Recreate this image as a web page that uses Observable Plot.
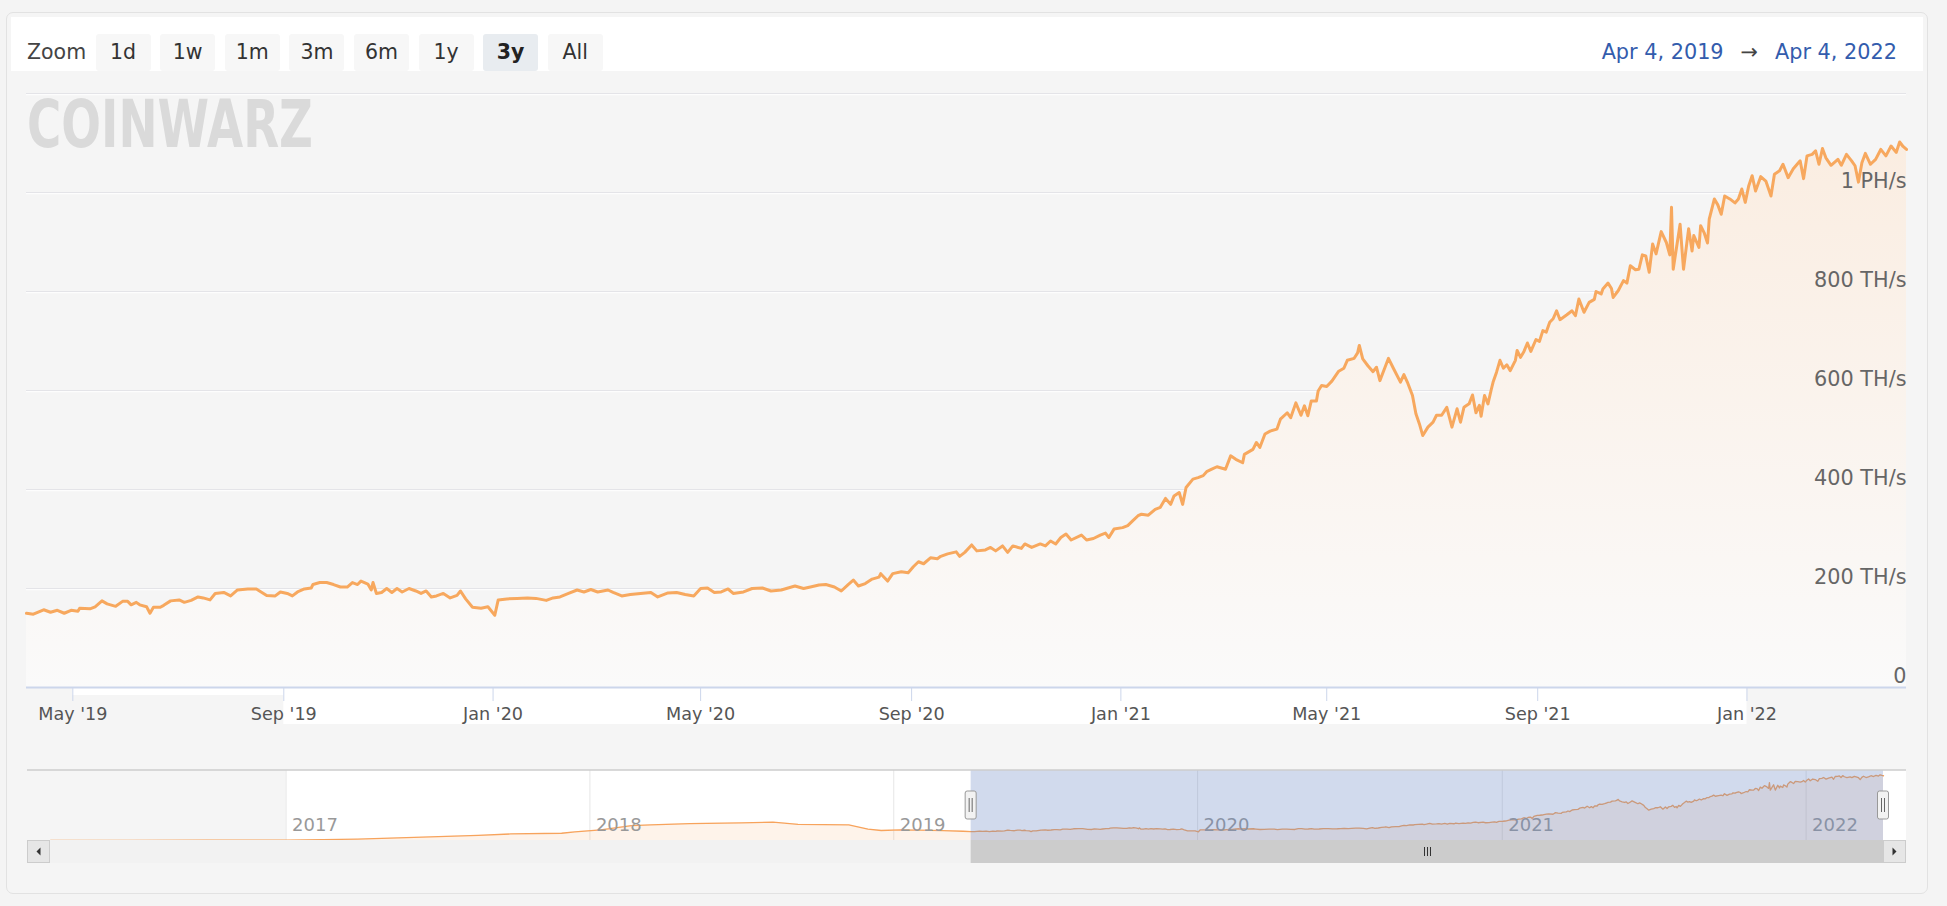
<!DOCTYPE html>
<html><head><meta charset="utf-8">
<script src="https://cdn.jsdelivr.net/npm/d3@7"></script>
<script src="https://cdn.jsdelivr.net/npm/@observablehq/plot@0.6"></script>
<style>
html,body{margin:0;padding:0;background:#f4f4f4;}
body{width:1947px;height:906px;position:relative;overflow:hidden;font-family:"DejaVu Sans",Verdana,sans-serif;}
#box{position:absolute;left:6px;top:12px;width:1920px;height:880px;border:1px solid #e2e2e2;border-radius:7px;background:#f5f5f5;}
#band{position:absolute;left:11px;top:17px;width:1912px;height:54px;background:#fff;}
.zlabel{position:absolute;left:27px;top:52px;transform:translateY(-50%);font-size:20.5px;color:#444;}
.btn{position:absolute;top:33.5px;height:37px;width:55px;background:#f7f7f7;border-radius:3px;font-size:20.5px;color:#333;display:flex;align-items:center;justify-content:center;}
.btn.sel{background:#e8ecf0;font-weight:bold;color:#222;}
#range{position:absolute;right:50px;top:52px;transform:translateY(-50%);font-size:20.8px;color:#335cad;white-space:nowrap;}
#range .arr{color:#444;margin:0 17px;}
#logo{position:absolute;left:27px;top:85px;overflow:visible;}
#main{position:absolute;left:0;top:71px;}
#nav{position:absolute;left:0;top:750px;}
</style>
</head><body>
<div id="box"></div>
<div id="band"></div>
<div id="top"></div>
<svg id="logo" width="300" height="72"><text x="0" y="62" font-family="DejaVu Sans" font-weight="bold" font-size="66" textLength="286" lengthAdjust="spacingAndGlyphs" fill="#dadada">COINWARZ</text></svg>
<div id="main"></div>
<div id="nav"></div>
<script>
// ---------- DATA ----------
const zoomButtons = ["1d","1w","1m","3m","6m","1y","3y","All"];
const selectedButton = "3y";
const rangeFrom = "Apr 4, 2019";
const rangeTo = "Apr 4, 2022";
const startDate = new Date("2019-04-04");
const endDate = new Date("2022-04-04");

// network hashrate (TH/s), day offsets from startDate
const mainDays = [0,4,10,14,18,22,26,30,31,37,40,44,47,52,56,59,61,64,66,70,72,74,78,80,84,89,92,96,100,103,107,110,115,119,123,129,134,140,145,148,152,155,158,162,166,167,171,175,179,183,187,190,193,195,199,201,202,204,207,210,213,216,219,223,227,230,233,236,239,243,247,251,253,256,260,265,269,
273,275,280,286,292,297,303,307,311,316,321,325,329,333,339,342,347,352,358,364,368,374,379,384,389,393,397,401,405,409,412,418,423,429,434,440,444,448,453,457,462,466,471,475,479,482,485,489,493,497,498,502,505,510,514,517,520,523,527,531,
533,537,542,544,547,551,554,559,562,565,569,572,575,580,582,586,591,594,597,600,603,606,609,615,618,622,626,629,631,634,639,642,645,648,650,654,658,661,664,667,669,672,674,676,680,683,686,688,691,694,699,702,705,709,710,715,717,719,722,725,729,731,735,737,740,743,745,747,749,752,753,755,758,761,763,765,
768,770,774,776,777,779,782,785,787,789,792,794,797,801,803,805,808,810,812,814,817,820,822,825,828,831,834,836,838,841,843,845,847,848,850,852,854,855,857,859,861,863,865,868,869,871,873,875,877,880,882,884,886,888,890,892,894,898,901,903,905,908,911,914,915,918,919,922,924,925,928,931,933,935,938,940,942,944,946,948,950,953,956,958,959,960,964,966,969,971,972,975,
976,978,980,981,984,986,988,990,993,996,998,1000,1002,1004,1006,1008,1011,1014,1017,1019,1022,1024,1027,1030,1034,1036,1038,1041,1043,1045,1047,1049,1052,1056,1058,1061,1064,1066,1068,1070,1072,1075,1078,1081,1084,1087,1090,1092,1094,1096];
const mainHash = [150,148,157,152,156,150,156,154,160,159,163,175,169,164,174,174,167,172,167,163,150,162,162,166,175,177,172,176,183,181,177,190,192,185,197,199,199,186,185,193,190,185,193,199,201,208,212,212,208,203,203,212,208,215,209,197,212,190,192,200,192,200,193,200,195,190,195,183,185,190,181,186,195,179,162,160,163,
146,177,179,180,181,180,176,181,183,190,197,193,198,193,197,192,185,188,190,192,183,191,192,188,185,200,201,192,193,199,190,193,200,201,195,197,201,205,200,203,207,208,203,195,208,217,205,210,219,223,230,215,230,234,232,244,254,250,262,260,
265,270,274,265,273,288,276,278,283,276,286,273,286,281,290,283,290,286,296,290,303,310,298,308,298,301,308,312,303,320,323,327,337,347,350,348,360,364,382,370,387,394,370,404,421,424,428,436,441,446,441,468,461,454,471,481,495,485,512,518,522,542,555,545,575,550,569,549,579,579,599,610,608,619,629,639,
645,661,665,676,691,664,650,638,647,620,647,665,644,617,632,617,590,553,533,509,526,536,550,550,566,526,563,536,566,573,591,555,570,548,590,573,603,617,637,661,645,652,640,661,681,667,679,696,679,703,699,721,718,738,745,761,743,753,761,751,785,758,778,784,800,795,805,817,806,788,802,822,817,852,844,845,874,872,839,896,876,921,899,874,970,845,936,845,927,882,913,889,
933,919,898,946,987,975,956,993,987,979,987,1007,980,1013,1034,1003,1032,1023,993,1037,1044,1057,1030,1048,1064,1028,1074,1077,1084,1057,1089,1070,1055,1067,1055,1077,1064,1054,1021,1060,1079,1057,1067,1087,1074,1094,1081,1102,1093,1087];

// earlier history shown only in the navigator
const histDates = ["2016-03-24","2016-07-01","2016-10-01","2017-01-03","2017-03-28","2017-06-04","2017-08-20","2017-09-28","2017-11-28","2017-12-14","2018-01-14","2018-02-20","2018-03-15","2018-05-01","2018-07-02","2018-08-09","2018-09-08","2018-11-08","2018-12-01","2018-12-17","2019-01-09","2019-01-31","2019-03-01","2019-03-25"];
const histHash = [2,3,4,5,23,52,87,110,122,145,180,249,261,284,296,307,272,261,191,168,180,174,165,155];

const xTickDates = ["2019-05-01","2019-09-01","2020-01-01","2020-05-01","2020-09-01","2021-01-01","2021-05-01","2021-09-01","2022-01-01"];
const xTickLabels = ["May '19","Sep '19","Jan '20","May '20","Sep '20","Jan '21","May '21","Sep '21","Jan '22"];
const yTickValues = [0,200,400,600,800,1000];
const yTickLabels = ["0","200 TH/s","400 TH/s","600 TH/s","800 TH/s","1 PH/s"];
const gridValues = [200,400,600,800,1000,1200];
const navYearDates = ["2017-01-01","2018-01-01","2019-01-01","2020-01-01","2021-01-01","2022-01-01"];
const navYearLabels = ["2017","2018","2019","2020","2021","2022"];
const navStart = new Date("2016-03-24");

// ---------- TOP BAR ----------
const topDiv = document.getElementById("top");
const zl = document.createElement("div"); zl.className = "zlabel"; zl.textContent = "Zoom"; topDiv.appendChild(zl);
zoomButtons.forEach((b, i) => {
  const el = document.createElement("div");
  el.className = "btn" + (b === selectedButton ? " sel" : "");
  el.style.left = (95.6 + i * 64.6) + "px";
  el.textContent = b;
  topDiv.appendChild(el);
});
const rg = document.createElement("div"); rg.id = "range";
rg.innerHTML = `<span>${rangeFrom}</span><span class="arr">→</span><span>${rangeTo}</span>`;
topDiv.appendChild(rg);

// ---------- MAIN CHART ----------
const mainData = mainDays.map((d, i) => ({date: d3.utcDay.offset(startDate, d), value: mainHash[i]}));
const xTicks = xTickDates.map(d => new Date(d));
const xLabelMap = new Map(xTicks.map((d, i) => [+d, xTickLabels[i]]));
const yLabelRows = yTickValues.map((v, i) => ({t: endDate, v, label: yTickLabels[i]}));

function gradDefs() {
  const defs = d3.create("svg:defs");
  const lg = defs.append("linearGradient").attr("id", "mainGrad").attr("x1", 0).attr("y1", 0).attr("x2", 0).attr("y2", 1);
  lg.append("stop").attr("offset", "0%").attr("stop-color", "#faede1");
  lg.append("stop").attr("offset", "100%").attr("stop-color", "#fafafa");
  return defs.node();
}
function axisBand(index, scales, values, dims) {
  const x = scales.x, y0 = dims.height - dims.marginBottom;
  const g = d3.create("svg:g");
  g.append("rect").attr("x", x(xTicks[1])).attr("y", y0).attr("width", x(xTicks[8]) - x(xTicks[1])).attr("height", 37).attr("fill", "#fff");
  g.append("rect").attr("x", x(xTicks[0])).attr("y", y0).attr("width", x(xTicks[1]) - x(xTicks[0])).attr("height", 8).attr("fill", "#fff");
  return g.node();
}

const main = Plot.plot({
  width: 1947, height: 680,
  marginLeft: 26, marginRight: 41, marginTop: 22, marginBottom: 64,
  x: {type: "utc", domain: [startDate, endDate]},
  y: {domain: [0, 1200], axis: null},
  style: {fontFamily: "DejaVu Sans, Verdana, sans-serif", fontSize: "17.6px", background: "transparent", overflow: "visible", color: "#555"},
  marks: [
    gradDefs,
    axisBand,
    Plot.ruleY(gridValues, {stroke: "#ffffff", strokeWidth: 1, dy: 1.2}),
    Plot.ruleY(gridValues, {stroke: "#e4e4e8", strokeWidth: 1}),
    Plot.areaY(mainData, {x: "date", y: "value", fill: "url(#mainGrad)"}),
    Plot.lineY(mainData, {x: "date", y: "value", stroke: "#f7a85e", strokeWidth: 3, strokeLinejoin: "round"}),
    Plot.ruleY([0], {stroke: "#ccd6eb", strokeWidth: 2}),
    Plot.axisX({ticks: xTicks, tickFormat: d => xLabelMap.get(+d), tickSize: 14, tickPadding: 6, stroke: "#ccd6eb", fill: "#555", fontSize: 17.6, label: null}),
    Plot.text(yLabelRows, {x: "t", y: "v", text: "label", textAnchor: "end", lineAnchor: "middle", dy: -11, fill: "#666", fontSize: 20.8})
  ]
});
d3.select(main).selectAll('[aria-label^="x-axis"] text').attr("fill", "#555");
document.getElementById("main").appendChild(main);

// ---------- NAVIGATOR ----------
const navData = histDates.map((d, i) => ({date: new Date(d), value: histHash[i]})).concat(mainData);
const navYears = navYearDates.map(d => new Date(d));
const navYearRows = navYears.map((d, i) => ({d, label: navYearLabels[i]}));
const L = 27, R = 1906;

function navBg(index, scales, values, dims) {
  const x = scales.x, top = dims.marginTop, bot = dims.height - dims.marginBottom;
  const g = d3.create("svg:g");
  g.append("rect").attr("x", x(navYears[0])).attr("y", top).attr("width", R - x(navYears[0])).attr("height", bot - top).attr("fill", "#fff");
  return g.node();
}
function navChrome(index, scales, values, dims) {
  const x = scales.x, top = dims.marginTop, bot = dims.height - dims.marginBottom;
  const x0 = x(startDate), x1 = x(endDate);
  const g = d3.create("svg:g");
  g.append("rect").attr("x", x0).attr("y", top).attr("width", x1 - x0).attr("height", bot - top).attr("fill", "rgba(102,133,194,0.3)");
  g.append("line").attr("x1", L).attr("x2", R).attr("y1", top).attr("y2", top).attr("stroke", "#cccccc").attr("stroke-width", 1.5);
  const sy = bot, sh = 23;
  g.append("rect").attr("x", L).attr("y", sy).attr("width", R - L).attr("height", sh).attr("fill", "#f2f2f2");
  g.append("rect").attr("x", x0).attr("y", sy).attr("width", x1 - x0).attr("height", sh).attr("fill", "#cccccc");
  const cx = Math.round((x0 + x1) / 2);
  [-3, 0, 3].forEach(d => g.append("line").attr("x1", cx + d + 0.5).attr("x2", cx + d + 0.5).attr("y1", sy + 7).attr("y2", sy + 16).attr("stroke", "#333").attr("stroke-width", 1));
  [[L, -1], [R - 23, 1]].forEach(([bx, dir]) => {
    g.append("rect").attr("x", bx + 0.5).attr("y", sy + 0.5).attr("width", 22).attr("height", sh - 1).attr("fill", "#e6e6e6").attr("stroke", "#cccccc");
    const c = bx + 11.5, m = sy + sh / 2;
    g.append("path").attr("d", `M${c - 2 * dir},${m - 4}L${c + 2 * dir},${m}L${c - 2 * dir},${m + 4}Z`).attr("fill", "#333");
  });
  [x0, x1].forEach(hx => {
    g.append("rect").attr("x", hx - 5.5).attr("y", top + 21).attr("width", 11).attr("height", 28).attr("rx", 2).attr("fill", "#f2f2f2").attr("stroke", "#999");
    [-1.5, 1.5].forEach(d => g.append("line").attr("x1", hx + d).attr("x2", hx + d).attr("y1", top + 28).attr("y2", top + 42).attr("stroke", "#666"));
  });
  return g.node();
}

const nav = Plot.plot({
  width: 1947, height: 120,
  marginLeft: 50, marginRight: 64, marginTop: 20, marginBottom: 30,
  x: {type: "utc", domain: [navStart, endDate], axis: null},
  y: {domain: [0, 1175], axis: null},
  style: {fontFamily: "DejaVu Sans, Verdana, sans-serif", background: "transparent", overflow: "visible"},
  marks: [
    navBg,
    Plot.ruleX(navYears, {stroke: "#e6e6e6"}),
    Plot.areaY(navData, {x: "date", y: "value", fill: "#f7a35c", fillOpacity: 0.13}),
    Plot.lineY(navData, {x: "date", y: "value", stroke: "#f7a35c", strokeWidth: 1.3}),
    Plot.text(navYearRows, {x: "d", text: "label", frameAnchor: "bottom", textAnchor: "start", lineAnchor: "middle", dx: 6, dy: -15, fill: "#999", fontSize: 18}),
    navChrome
  ]
});
document.getElementById("nav").appendChild(nav);
</script>
</body></html>
